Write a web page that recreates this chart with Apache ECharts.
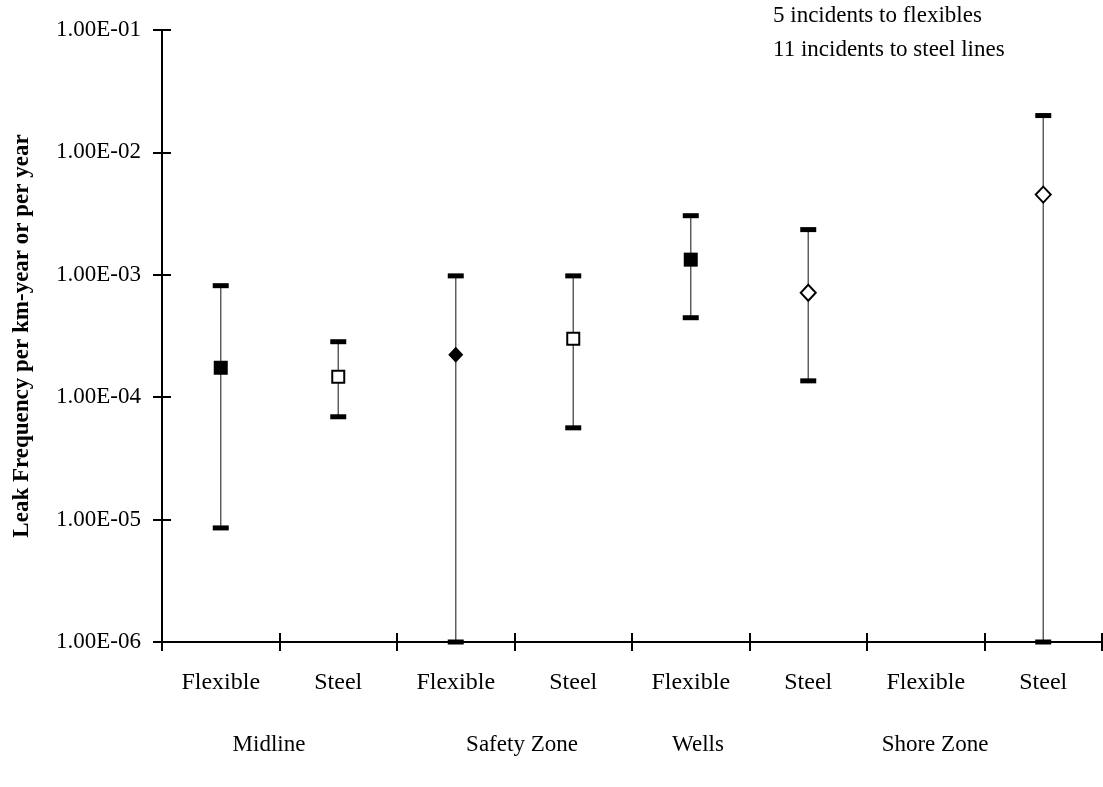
<!DOCTYPE html>
<html>
<head>
<meta charset="utf-8">
<script src="https://cdn.jsdelivr.net/npm/echarts@6/dist/echarts.min.js"></script>
<style>html,body{margin:0;padding:0;background:#fff}#c{width:1103px;height:787px}</style>
</head>
<body>
<div id="c"></div>
<script>
// ---- data ----
const categories = ['Flexible','Steel','Flexible','Steel','Flexible','Steel','Flexible','Steel'];
const groupNames = ['Midline','Safety Zone','Wells','Shore Zone'];
const lowValues  = [8.55e-6, 6.92e-5, 1.0e-6, 5.62e-5, 4.46e-4, 1.36e-4, null, 1.0e-6];
const midValues  = [1.74e-4, 1.47e-4, 2.22e-4, 3.0e-4, 1.33e-3, 7.14e-4, null, 4.52e-3];
const highValues = [8.15e-4, 2.84e-4, 9.8e-4, 9.8e-4, 3.04e-3, 2.34e-3, null, 2.0e-2];
const yTicks = [1e-6, 1e-5, 1e-4, 1e-3, 1e-2, 1e-1];
const notes = ['5 incidents to flexibles', '11 incidents to steel lines'];

// ---- styles (not data) ----
const FONT = "'Liberation Serif','Times New Roman',serif";
const markerLook = [
  {symbol:'rect', filled:true},
  {symbol:'rect', filled:false},
  {symbol:'diamond', filled:true},
  {symbol:'rect', filled:false},
  {symbol:'rect', filled:true},
  {symbol:'diamond', filled:false},
  null,
  {symbol:'diamond', filled:false}
];
const groupLabelX = [269, 522, 698, 935];

function fmtSci(v){
  const e = Math.floor(Math.log10(v) + 1e-9);
  const m = v / Math.pow(10, e);
  const sign = e < 0 ? '-' : '+';
  return m.toFixed(2) + 'E' + sign + String(Math.abs(e)).padStart(2, '0');
}

const errData = categories.map((c, i) =>
  lowValues[i] == null ? null : [i, lowValues[i], midValues[i], highValues[i]]
).filter(d => d);

const pointData = [];
categories.forEach((c, i) => {
  if (midValues[i] == null) return;
  const lk = markerLook[i];
  pointData.push({
    value: [i, midValues[i]],
    symbol: lk.symbol,
    symbolSize: lk.symbol === 'rect' ? (lk.filled ? 14 : 12) : [15, 16],
    itemStyle: {
      color: lk.filled ? '#000' : '#fff',
      borderColor: '#000',
      borderWidth: lk.filled ? 0 : 2,
      opacity: 1
    }
  });
});

const axisBase = {
  type: 'log', logBase: 10, min: 1e-6, max: 1e-1,
  splitLine: {show: false}
};

const chart = echarts.init(document.getElementById('c'), null, {renderer: 'canvas'});
chart.setOption({
  animation: false,
  backgroundColor: '#fff',
  grid: {left: 162, right: 1, top: 30, bottom: 145, containLabel: false},
  xAxis: [
    {
      type: 'category', data: categories, boundaryGap: true, position: 'bottom',
      axisLine: {lineStyle: {color: '#000', width: 2}},
      axisTick: {show: true, length: 9, lineStyle: {color: '#000', width: 2}},
      axisLabel: {color: '#000', fontFamily: FONT, fontSize: 24, margin: 29}
    },
    {
      type: 'category', data: categories, boundaryGap: true, position: 'bottom',
      axisLine: {show: false},
      axisTick: {show: true, inside: true, length: 9, lineStyle: {color: '#000', width: 2}},
      axisLabel: {show: false}
    }
  ],
  yAxis: [
    Object.assign({}, axisBase, {
      position: 'left',
      name: 'Leak Frequency per km-year or per year',
      nameLocation: 'middle', nameGap: 128,
      nameTextStyle: {color: '#000', fontFamily: FONT, fontSize: 23, fontWeight: 'bold'},
      axisLine: {show: true, lineStyle: {color: '#000', width: 2}},
      axisTick: {show: true, length: 9, lineStyle: {color: '#000', width: 2}},
      axisLabel: {color: '#000', fontFamily: FONT, fontSize: 23, margin: 21,
        formatter: v => fmtSci(v)}
    }),
    Object.assign({}, axisBase, {
      position: 'left',
      axisLine: {show: false},
      axisTick: {show: true, inside: true, length: 9, lineStyle: {color: '#000', width: 2}},
      axisLabel: {show: false}
    })
  ],
  series: [
    {
      type: 'custom',
      xAxisIndex: 0, yAxisIndex: 0,
      data: errData,
      z: 2,
      renderItem: function (params, api) {
        const x = api.value(0);
        const lo = api.coord([x, api.value(1)]);
        const hi = api.coord([x, api.value(3)]);
        const capW = 16, capH = 5;
        return {
          type: 'group',
          children: [
            {type: 'line', shape: {x1: lo[0], y1: lo[1], x2: hi[0], y2: hi[1]},
              style: {stroke: '#555', lineWidth: 1.4}},
            {type: 'rect', shape: {x: hi[0] - capW/2, y: hi[1] - capH/2, width: capW, height: capH},
              style: {fill: '#000'}},
            {type: 'rect', shape: {x: lo[0] - capW/2, y: lo[1] - capH/2, width: capW, height: capH},
              style: {fill: '#000'}}
          ]
        };
      }
    },
    {
      type: 'scatter',
      xAxisIndex: 0, yAxisIndex: 0,
      data: pointData,
      itemStyle: {opacity: 1},
      z: 5
    }
  ],
  graphic: [
    {type: 'text', left: 773, top: 4, style: {text: notes[0], font: '23px ' + FONT, fill: '#000'}},
    {type: 'text', left: 773, top: 38, style: {text: notes[1], font: '23px ' + FONT, fill: '#000'}}
  ].concat(groupNames.map((g, i) => ({
    type: 'text', x: groupLabelX[i], y: 745,
    style: {text: g, font: '23px ' + FONT, fill: '#000', align: 'center', verticalAlign: 'middle'}
  })))
});
</script>
</body>
</html>
